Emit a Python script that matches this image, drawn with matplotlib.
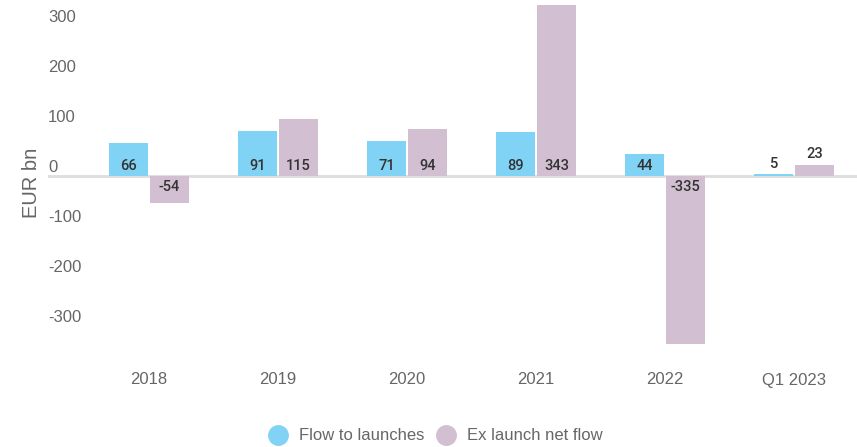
import matplotlib.pyplot as plt
import matplotlib.transforms as mtransforms
import numpy as np

categories = ["2018", "2019", "2020", "2021", "2022", "Q1 2023"]
flow_to_launches = [66, 91, 71, 89, 44, 5]
ex_launch_net_flow = [-54, 115, 94, 343, -335, 23]
series_names = ["Flow to launches", "Ex launch net flow"]
yticks = [-300, -200, -100, 0, 100, 200, 300]

blue = "#81d3f5"
mauve = "#d2bfd2"
grey_txt = "#666666"
label_txt = "#333333"

fig = plt.figure(figsize=(8.57, 4.47), dpi=100)
W, H = 857, 447
ax = fig.add_axes([48 / W, 87 / H, (W - 48) / W, 360 / H])

x = np.arange(len(categories))
width = 0.30
off = 0.159
b1 = ax.bar(x - off, flow_to_launches, width, color=blue, zorder=2)
b2 = ax.bar(x + off, ex_launch_net_flow, width, color=mauve, zorder=2)

ax.axhline(0, color="#dddddd", lw=2, zorder=1)

ax.set_xlim(-101 / 129, (W - 149) / 129)
ax.set_ylim(-368, 352)

# value labels: inside near the base, or above when the bar is too short
up = mtransforms.ScaledTranslation(0, 10 / 100, fig.dpi_scale_trans)
down = mtransforms.ScaledTranslation(0, -11 / 100, fig.dpi_scale_trans)
for bars, vals in [(b1, flow_to_launches), (b2, ex_launch_net_flow)]:
    for rect, v in zip(bars, vals):
        cx = rect.get_x() + rect.get_width() / 2
        if v < 0:
            y, tr = 0, ax.transData + down
        elif v < 30:
            y, tr = v, ax.transData + up
        else:
            y, tr = 0, ax.transData + up
        ax.text(cx, y, f"{v}", transform=tr, ha="center", va="center",
                fontsize=10.5, family="Roboto", fontweight="medium",
                color=label_txt)

for s in ax.spines.values():
    s.set_visible(False)

ax.set_yticks(yticks)
ax.set_yticklabels([str(t) for t in yticks])
ax.tick_params(axis="y", length=0, pad=0, labelsize=12, labelcolor=grey_txt)
for lab in ax.get_yticklabels():
    lab.set_horizontalalignment("left")
    lab.set_fontfamily("Liberation Sans")
    lab.set_transform(lab.get_transform() + up)

ax.set_xticks(x)
ax.set_xticklabels(categories)
ax.tick_params(axis="x", length=0, pad=9, labelsize=12, labelcolor=grey_txt)
for lab in ax.get_xticklabels():
    lab.set_fontfamily("Liberation Sans")

fig.text(32 / W, 1 - 183 / H, "EUR bn", rotation=90, ha="center", va="center",
         fontsize=14.5, color=grey_txt, family="Liberation Sans")

handles = [plt.Line2D([], [], marker="o", ls="", markersize=14, color=c)
           for c in (blue, mauve)]
fig.legend(handles, series_names, loc="center", bbox_to_anchor=(432 / W, 1 - 436 / H),
           ncol=2, frameon=False, handletextpad=0.25, columnspacing=0.35,
           prop={"family": "Liberation Sans", "size": 12}, labelcolor=grey_txt)

fig.savefig("out.png", dpi=100)
